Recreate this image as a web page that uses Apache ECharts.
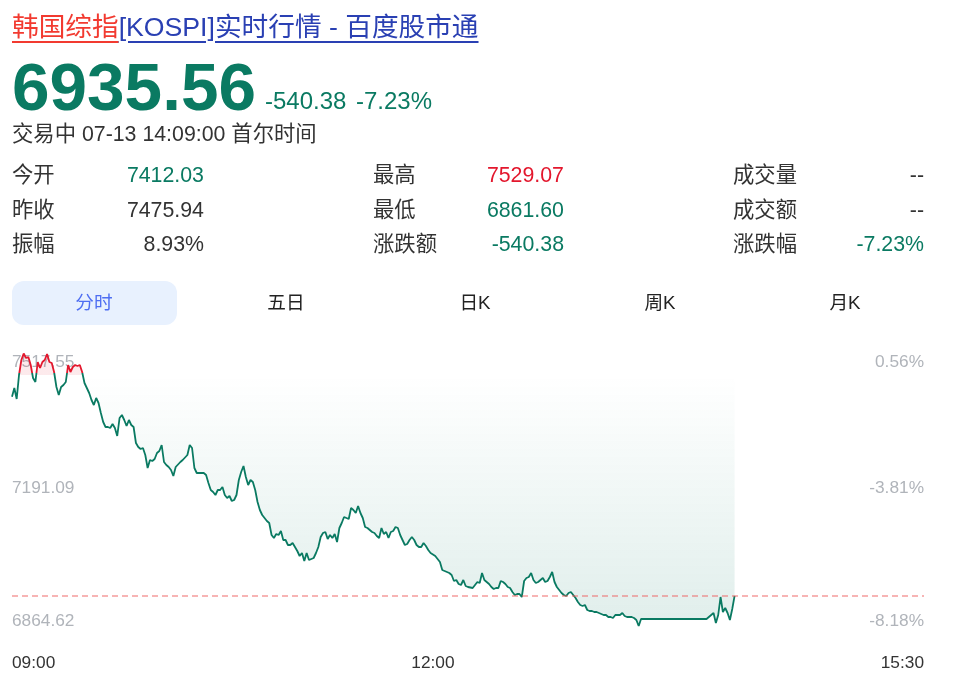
<!DOCTYPE html>
<html><head><meta charset="utf-8">
<script src="https://cdn.jsdelivr.net/npm/echarts@6/dist/echarts.min.js"></script>
<style>
html,body{margin:0;padding:0;width:954px;height:684px;overflow:hidden;background:#fff;font-family:Arial,"Liberation Sans","Noto Sans CJK SC",sans-serif;color:#333;}
#chart{position:absolute;left:0;top:0;width:954px;height:684px;}
.t{position:absolute;white-space:nowrap;}
</style></head><body>
<div id="chart"></div>
<div id="hdr"></div>
<script>
// ---------- data ----------
const titleRed = '韩国综指';
const titleBlue = '[KOSPI]实时行情 - 百度股市通';
const lastPrice = 6935.56;
const changeText = '-540.38';
const changePctText = '-7.23%';
const statusText = '交易中 07-13 14:09:00 首尔时间';
const prevClose = 7475.94;

const statLabels = [['今开','昨收','振幅'],['最高','最低','涨跌额'],['成交量','成交额','涨跌幅']];
const statValues = [['7412.03','7475.94','8.93%'],['7529.07','6861.60','-540.38'],['--','--','-7.23%']];
const statTones  = [['down','flat','flat'],['up','down','down'],['flat','flat','down']];

const tabs = ['分时','五日','日K','周K','月K'];

const timeTicks = [0, 180, 390];            // minutes after 09:00
const timeLabels = ['09:00', '12:00', '15:30'];
const priceTicks = [7517.55, 7191.09, 6864.62];
const pctLabels = ['0.56%', '-3.81%', '-8.18%'];

// minute offset from 09:00, price
const minutes = [0,1,2,3,4,5,6,7,8,9,10,11,12,13,14,15,16,17,18,19,20,21,22,23,24,25,26,27,28,29,30,31,32,33,34,35,36,37,38,39,40,41,42,43,44,45,46,47,48,49,50,51,52,53,54,55,56,57,58,59,60,61,62,63,64,65,66,67,68,69,70,72,73,75,76,77,78,79,80,82,83,84,85,86,87,88,89,90,91,92,93,94,95,96,97,98,99,100,101,102,103,104,105,106,107,108,109,110,111,112,113,114,115,116,117,118,119,120,121,122,123,124,125,126,127,128,129,130,131,132,133,134,135,136,137,138,139,140,141,142,144,145,146,147,148,149,150,151,152,153,154,155,156,157,158,159,160,161,162,163,164,165,166,167,168,169,170,171,172,173,174,175,176,177,178,179,181,182,183,184,185,187,188,189,190,191,192,193,194,195,197,198,199,200,201,202,203,204,205,206,207,208,209,210,211,212,213,214,215,216,217,218,219,220,221,222,223,224,225,226,227,228,229,230,231,232,233,234,235,236,237,238,239,240,241,242,243,244,245,246,247,248,249,250,251,252,253,254,255,256,257,258,259,260,261,262,263,264,265,266,267,268,269,297,298,299,300,301,302,303,304,305,306,307,308,309];
const prices = [7423.26,7444.57,7417.62,7476.41,7513.15,7529.07,7518.05,7520.50,7500.90,7469.06,7459.26,7508.25,7493.55,7508.25,7513.15,7527.85,7508.25,7505.80,7483.76,7447.01,7427.42,7447.01,7451.91,7459.26,7500.90,7483.76,7496.00,7500.90,7498.45,7500.90,7483.76,7456.81,7444.57,7432.32,7415.17,7402.92,7420.07,7407.82,7383.33,7361.28,7349.03,7349.03,7346.58,7356.38,7346.58,7326.99,7371.08,7378.43,7366.18,7351.48,7366.18,7353.93,7349.03,7309.85,7300.05,7295.15,7297.60,7280.45,7248.61,7268.21,7265.76,7270.66,7285.35,7290.25,7304.95,7263.31,7255.96,7251.06,7243.71,7229.01,7251.06,7263.31,7268.21,7280.45,7304.95,7297.60,7248.61,7236.37,7236.37,7236.37,7231.47,7211.87,7194.73,7189.83,7182.48,7194.73,7194.73,7202.08,7182.48,7175.13,7180.03,7167.78,7170.23,7182.48,7219.22,7238.82,7253.51,7226.57,7206.97,7219.22,7214.32,7194.73,7165.33,7145.74,7133.49,7126.14,7118.80,7113.90,7084.50,7077.16,7086.95,7084.50,7094.30,7072.26,7072.26,7060.01,7060.01,7064.91,7055.11,7045.31,7033.07,7040.41,7020.82,7040.41,7023.27,7025.72,7028.17,7040.41,7055.11,7079.61,7089.40,7091.85,7074.71,7084.50,7077.16,7086.95,7067.36,7101.65,7113.90,7128.59,7123.69,7150.64,7145.74,7138.39,7155.54,7138.39,7126.14,7104.10,7101.65,7096.75,7091.85,7089.40,7082.05,7077.16,7101.65,7086.95,7091.85,7077.16,7091.85,7094.30,7104.10,7101.65,7084.50,7072.26,7060.01,7062.46,7072.26,7079.61,7072.26,7060.01,7055.11,7055.11,7064.91,7057.56,7047.76,7040.41,7033.07,7025.72,7018.37,6998.77,6996.33,6991.43,6986.53,6971.83,6974.28,6964.48,6962.03,6974.28,6959.58,6957.14,6954.69,6962.03,6969.38,6966.93,6991.43,6974.28,6969.38,6964.48,6957.14,6952.24,6954.69,6954.69,6971.83,6969.38,6964.48,6957.14,6954.69,6944.89,6937.54,6939.99,6939.99,6932.64,6971.83,6979.18,6981.63,6991.43,6974.28,6966.93,6969.38,6974.28,6979.18,6969.38,6971.83,6981.63,6993.88,6969.38,6957.14,6949.79,6942.44,6937.54,6935.09,6942.44,6944.89,6937.54,6930.19,6920.39,6913.05,6910.60,6913.05,6900.80,6898.35,6898.35,6895.90,6895.90,6893.45,6891.00,6888.55,6888.55,6883.65,6883.65,6881.20,6888.55,6888.55,6888.55,6893.45,6886.10,6883.65,6883.65,6883.65,6881.20,6876.30,6861.60,6878.75,6878.75,6883.65,6888.55,6893.45,6868.96,6888.55,6932.64,6895.90,6905.70,6893.45,6876.30,6903.25,6935.56];

// ---------- colours ----------
const GREEN = '#0a7a62', RED = '#e3172d', DARK = '#333', GREY = '#b0b4ba';
const toneColor = {up: RED, down: GREEN, flat: DARK};

// ---------- header (HTML text) ----------
const hdr = document.getElementById('hdr');
function addText(txt, css) {
  const d = document.createElement('div');
  d.className = 't';
  d.textContent = txt;
  Object.assign(d.style, css);
  hdr.appendChild(d);
  return d;
}
const title = document.createElement('div');
title.className = 't';
Object.assign(title.style, {left: '12px', top: '14px', fontSize: '26.67px', lineHeight: '26.67px'});
const a1 = document.createElement('span'); a1.textContent = titleRed;
Object.assign(a1.style, {color: '#f23a30', textDecoration: 'underline', textUnderlineOffset: '5px', textDecorationThickness: '2px'});
const a2 = document.createElement('span'); a2.textContent = titleBlue;
Object.assign(a2.style, {color: '#2a40b3', textDecoration: 'underline', textUnderlineOffset: '5px', textDecorationThickness: '2px'});
title.appendChild(a1); title.appendChild(a2); hdr.appendChild(title);

addText(lastPrice.toFixed(2), {left: '12px', top: '54px', fontSize: '67.5px', lineHeight: '66px', fontWeight: 'bold', color: GREEN});
addText(changeText, {left: '265px', top: '89px', fontSize: '24px', lineHeight: '24px', color: GREEN});
addText(changePctText, {left: '356px', top: '89px', fontSize: '24px', lineHeight: '24px', color: GREEN});
addText(statusText, {left: '12px', top: '124px', fontSize: '21.33px', lineHeight: '21.33px', color: DARK});

const colX = [12, 373, 733], colR = [204, 564, 924], rowY = [176, 211, 245];
for (let c = 0; c < 3; c++) {
  for (let r = 0; r < 3; r++) {
    addText(statLabels[c][r], {left: colX[c] + 'px', top: (rowY[r] - 11) + 'px', fontSize: '21.33px', lineHeight: '21.33px', color: DARK});
    addText(statValues[c][r], {right: (954 - colR[c]) + 'px', top: (rowY[r] - 11) + 'px', fontSize: '21.33px', lineHeight: '21.33px', color: toneColor[statTones[c][r]]});
  }
}
const tabBg = document.createElement('div');
Object.assign(tabBg.style, {position: 'absolute', left: '12px', top: '281px', width: '165px', height: '44px', borderRadius: '12px', background: '#e8f1fe'});
hdr.appendChild(tabBg);
const tabCx = [94, 286, 475, 660, 845];
tabs.forEach((t, i) => {
  addText(t, {left: (tabCx[i] - 50) + 'px', width: '100px', textAlign: 'center', top: '294px', fontSize: '18.67px', lineHeight: '18.67px', color: i === 0 ? '#4e6ef2' : '#222'});
});

// ---------- chart ----------
const pMin = Math.min(...prices), pMax = Math.max(...prices);
const f = (pMax - prevClose) / (pMax - pMin);   // position of previous close inside the line's box
const chart = echarts.init(document.getElementById('chart'), null, {renderer: 'canvas'});
const labelRich = {
  t: {padding: [8, 0, 0, 0], fontSize: 17.3, color: GREY},
  m: {padding: [0, 0, 7, 0], fontSize: 17.3, color: GREY}
};
function tickIndex(v) { return priceTicks.findIndex(p => Math.abs(p - v) < 1e-6); }
chart.setOption({
  animation: false,
  grid: {left: 12, right: 30, top: 353.5, height: 272.5},
  xAxis: {
    type: 'value', min: timeTicks[0], max: timeTicks[timeTicks.length - 1],
    axisLine: {show: false}, axisTick: {show: false}, splitLine: {show: false},
    axisLabel: {
      customValues: timeTicks, margin: 29, fontSize: 17.3, color: DARK,
      alignMinLabel: 'left', alignMaxLabel: 'right',
      formatter: v => timeLabels[timeTicks.indexOf(v)]
    }
  },
  yAxis: [{
    type: 'value', min: pMin, max: pMax, position: 'left',
    axisLine: {show: false}, axisTick: {show: false}, splitLine: {show: false},
    axisLabel: {
      inside: true, margin: 0, customValues: priceTicks, rich: labelRich,
      formatter: v => { const i = tickIndex(v); return '{' + (i === 0 ? 't' : 'm') + '|' + priceTicks[i].toFixed(2) + '}'; }
    }
  }, {
    type: 'value', min: pMin, max: pMax, position: 'right',
    axisLine: {show: false}, axisTick: {show: false}, splitLine: {show: false},
    axisLabel: {
      inside: true, margin: 0, customValues: priceTicks, rich: labelRich,
      formatter: v => { const i = tickIndex(v); return '{' + (i === 0 ? 't' : 'm') + '|' + pctLabels[i] + '}'; }
    }
  }],
  series: [{
    type: 'line', yAxisIndex: 0, showSymbol: false, symbol: 'none', clip: false,
    data: minutes.map((m, i) => [m, prices[i]]),
    lineStyle: {
      width: 1.8,
      color: new echarts.graphic.LinearGradient(0, 0, 0, 1, [
        {offset: 0, color: RED}, {offset: f, color: RED},
        {offset: f, color: GREEN}, {offset: 1, color: GREEN}
      ])
    },
    areaStyle: {
      origin: prevClose,
      color: new echarts.graphic.LinearGradient(0, 0, 0, 1, [
        {offset: 0, color: 'rgba(227,23,45,0.13)'},
        {offset: f, color: 'rgba(227,23,45,0.13)'},
        {offset: f, color: 'rgba(10,122,98,0.0)'},
        {offset: 1, color: 'rgba(10,122,98,0.18)'}
      ])
    },
    markLine: {
      silent: true, symbol: 'none', label: {show: false},
      lineStyle: {type: [6, 4], color: 'rgba(238,90,90,0.6)', width: 1.5},
      data: [{yAxis: lastPrice}]
    }
  }]
});
</script>
</body></html>
